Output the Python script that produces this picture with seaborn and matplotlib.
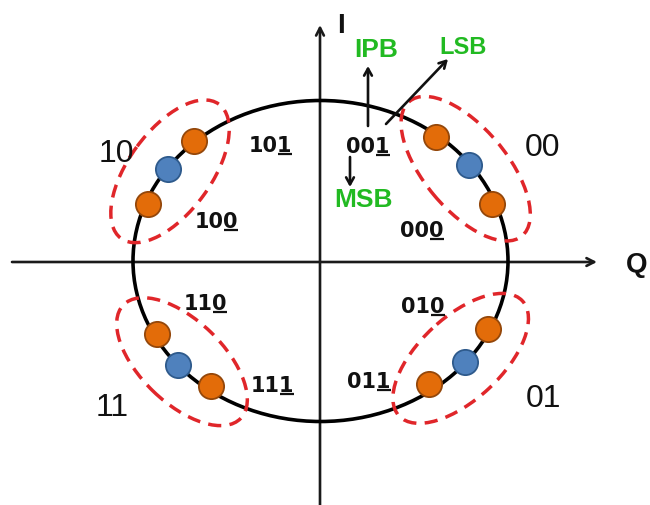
import numpy as np
import pandas as pd
import matplotlib
matplotlib.use("Agg")
import matplotlib.pyplot as plt
import seaborn as sns
from matplotlib.patches import Ellipse

# ---------------- data (Q, I normalised to the circle's horizontal radius) -------------
group_names = ["00", "10", "11", "01"]
point_group = ["00"] * 3 + ["10"] * 3 + ["11"] * 3 + ["01"] * 3
point_kind = ["outer", "inner", "outer"] * 4
point_q = [0.616, 0.792, 0.915, -0.675, -0.813, -0.920, -0.872, -0.760, -0.584, 0.893, 0.771, 0.579]
point_i = [0.661, 0.512, 0.304, 0.640, 0.491, 0.304, -0.389, -0.555, -0.667, -0.363, -0.539, -0.656]
bit_labels = ["001", "000", "101", "100", "110", "111", "010", "011"]
bit_names = ["IPB", "LSB", "MSB"]
axis_names = ["Q", "I"]
circle_rx = 1.0
circle_ry = 0.856

df = pd.DataFrame({"Q": point_q, "I": point_i, "kind": point_kind, "group": point_group})

# ---------------- layout helpers -------------
W, H = 650, 506
S, CX, CY = 187.5, 320.5, 262.0


def P(x, y):
    """pixel position of the reference -> data coordinates"""
    return ((x - CX) / S, (CY - y) / S)


sns.set_style("white")
fig = plt.figure(figsize=(W / 100, H / 100), dpi=100)
ax = fig.add_axes([0, 0, 1, 1])
ax.set_xlim(P(0, 0)[0], P(W, 0)[0])
ax.set_ylim(P(0, H)[1], P(0, 0)[1])
ax.set_aspect("equal")
ax.axis("off")

# axes arrows
arrow_kw = dict(arrowstyle="->,head_length=0.55,head_width=0.28", lw=1.9,
                color="#1a1a1a", shrinkA=0, shrinkB=0)
ax.annotate("", xy=P(597, 263), xytext=P(12, 263), arrowprops=arrow_kw, zorder=1)
ax.annotate("", xy=P(320, 26), xytext=P(320, 506), arrowprops=arrow_kw, zorder=1)
ax.text(*P(626, 272), axis_names[0], ha="left", va="baseline", fontsize=20,
        fontweight="bold", family="Liberation Sans", color="#111111")
ax.text(*P(341, 33), axis_names[1], ha="center", va="baseline", fontsize=20,
        fontweight="bold", family="Liberation Sans", color="#111111")

# circle
ax.add_patch(Ellipse((0, 0), 2 * circle_rx, 2 * circle_ry, fill=False,
                     lw=2.6, edgecolor="black", zorder=2))

# dashed group outlines derived from the points
for g in group_names:
    sub = df[df["group"] == g]
    pts = sub[["Q", "I"]].to_numpy()
    c = pts.mean(axis=0)
    v = pts[-1] - pts[0]
    ang = np.degrees(np.arctan2(v[1], v[0]))
    ax.add_patch(Ellipse(c, np.hypot(*v) + 2 * 0.235, 0.44, angle=ang, fill=False,
                         edgecolor="#E0262A", lw=2.5, linestyle=(0, (3.8, 2.4)), zorder=3))

# points
sns.scatterplot(data=df[df["kind"] == "outer"], x="Q", y="I", ax=ax, s=330,
                color="#E36C09", edgecolor="#94470A", linewidth=1.3, zorder=4, legend=False)
sns.scatterplot(data=df[df["kind"] == "inner"], x="Q", y="I", ax=ax, s=330,
                color="#4F81BD", edgecolor="#2E5A8C", linewidth=1.3, zorder=4, legend=False)
ax.set_xlim(P(0, 0)[0], P(W, 0)[0])
ax.set_ylim(P(0, H)[1], P(0, 0)[1])
ax.set_xlabel("")
ax.set_ylabel("")

# group labels
for name, (x, y) in zip(group_names, [(543, 156), (116, 162), (112, 416), (544, 407)]):
    ax.text(*P(x, y), name, ha="center", va="baseline", fontsize=23,
            family="Liberation Sans", color="#111111")

# bit labels with underlined last bit
fig.canvas.draw()
renderer = fig.canvas.get_renderer()
bit_pos = [(368, 153), (422, 237), (270, 152), (216, 228), (205, 310), (272, 392),
           (423, 313), (369, 388)]
txt_kw = dict(fontsize=15, fontweight="bold", family="DejaVu Sans", color="#111111")
inv = ax.transData.inverted()
for s, (x, y) in zip(bit_labels, bit_pos):
    t = ax.text(*P(x, y), s, ha="center", va="baseline", zorder=5, **txt_kw)
    bb = t.get_window_extent(renderer)
    tmp = ax.text(0, 0, s[:-1], **txt_kw)
    pw = tmp.get_window_extent(renderer).width
    tmp.remove()
    base_disp = ax.transData.transform(P(x, y))[1]
    x0 = bb.x0 + pw + 1.0
    x1 = bb.x1
    yy = base_disp - 3.0
    (dx0, dy0) = inv.transform((x0, yy))
    (dx1, _) = inv.transform((x1, yy))
    ax.plot([dx0, dx1], [dy0, dy0], color="#111111", lw=1.6, solid_capstyle="butt", zorder=5)

# green annotations
green = "#22BA22"
ax.text(*P(376, 57), bit_names[0], ha="center", va="baseline", fontsize=19,
        fontweight="bold", family="Liberation Sans", color=green)
ax.text(*P(463, 54), bit_names[1], ha="center", va="baseline", fontsize=17,
        fontweight="bold", family="Liberation Sans", color=green)
ax.text(*P(364, 207), bit_names[2], ha="center", va="baseline", fontsize=19,
        fontweight="bold", family="Liberation Sans", color=green)
small_arrow = dict(arrowstyle="->,head_length=0.5,head_width=0.28", lw=1.9,
                   color="#111111", shrinkA=0, shrinkB=0)
ax.annotate("", xy=P(368, 67), xytext=P(368, 127), arrowprops=small_arrow, zorder=5)
ax.annotate("", xy=P(448, 60), xytext=P(386, 125), arrowprops=small_arrow, zorder=5)
ax.annotate("", xy=P(350, 188), xytext=P(350, 158), arrowprops=small_arrow, zorder=5)

fig.savefig("out.png", dpi=100, facecolor="white")
